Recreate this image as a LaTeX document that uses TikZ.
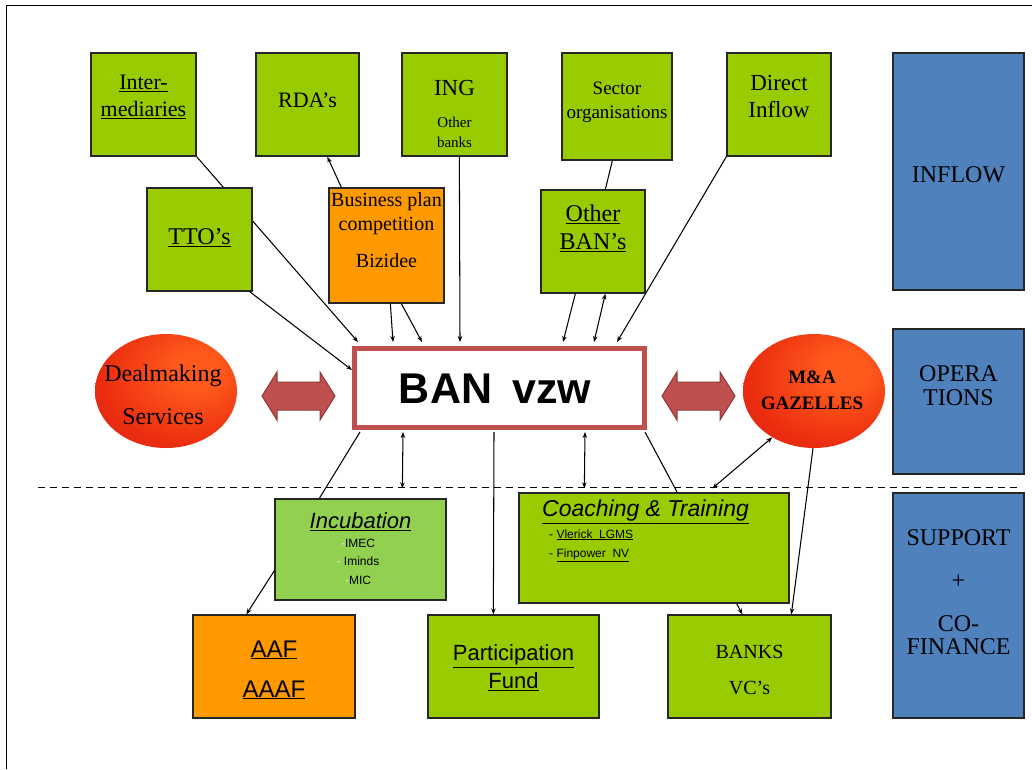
\documentclass[tikz,border=0pt]{standalone}
\usepackage{fontspec}
\setmainfont{Liberation Serif}
\setsansfont{Liberation Sans}
\usetikzlibrary{arrows.meta,calc,shapes.geometric}
\definecolor{gr}{RGB}{153,204,0}
\definecolor{lgr}{RGB}{146,208,80}
\definecolor{org}{RGB}{255,153,0}
\definecolor{blu}{RGB}{79,129,189}
\definecolor{banred}{RGB}{192,80,77}
\definecolor{dkred}{RGB}{140,56,54}
\definecolor{ballA}{RGB}{255,90,28}
\definecolor{ballB}{RGB}{235,45,15}
\definecolor{ballC}{RGB}{205,25,40}
\definecolor{ballD}{RGB}{170,20,75}
\pgfdeclareradialshading{redball}{\pgfpoint{12bp}{10bp}}{color(0bp)=(ballA); color(8bp)=(ballA); color(30bp)=(ballB); color(52bp)=(ballC); color(78bp)=(ballD)}
\pgfdeclarelayer{bg}
\pgfsetlayers{bg,main}
\newcommand\fsz[2]{\fontsize{#1}{#2}\selectfont}
\tikzset{
  box/.style={draw=black!85, line width=1.3pt, inner sep=0pt},
  gbox/.style={box, fill=gr},
  obox/.style={box, fill=org},
  bbox/.style={box, fill=blu},
  ball/.style={ellipse, shade, shading=redball, inner sep=0pt, minimum width=142pt, minimum height=114pt},
  txt/.style={inner sep=0pt, align=center, text=black},
  tip/.tip={Stealth[length=6pt,width=4.5pt]},
  arr/.style={-tip, line width=1.05pt},
  darr/.style={tip-tip, line width=1.05pt},
  ln/.style={line width=1.05pt},
  blockarrow/.pic={\draw[fill=banred, draw=dkred, line width=1pt] (-36.5,0) -- (-21.5,-24) -- (-21.5,-14) -- (21.5,-14) -- (21.5,-24) -- (36.5,0) -- (21.5,24) -- (21.5,14) -- (-21.5,14) -- (-21.5,24) -- cycle;}
}
\begin{document}
\begin{tikzpicture}[x=1pt,y=-1pt]
\useasboundingbox (0,0) rectangle (1032,769);
% frame
\coordinate (fbl) at (6,769);
\coordinate (ftl) at (6,5);
\coordinate (ftr) at (1032,5);
\draw[line width=1pt] (fbl) -- (ftl) -- (ftr);
% dashed separator
\coordinate (dl) at (38,487);
\coordinate (dr) at (1020,487);
\draw[line width=1pt, dash pattern=on 7pt off 5pt] (dl) -- (dr);

% top row
\node[gbox, minimum width=105pt, minimum height=103pt] (inter) at (143.5,104.5) {};
\node[txt, font=\fsz{22}{27}] at (143.5,97) {\underline{Inter-}\\\underline{mediaries}};
\node[gbox, minimum width=103pt, minimum height=103pt] (rda) at (307.5,104.5) {};
\node[txt, font=\fsz{22}{26}] at (307.5,100) {RDA’s};
\node[gbox, minimum width=105pt, minimum height=103pt] (ing) at (454.5,104.5) {};
\node[txt, font=\fsz{23}{26}] at (454.5,88) {ING};
\node[txt, font=\fsz{15}{20}] at (454.5,132) {Other\\banks};
\node[gbox, minimum width=110pt, minimum height=107pt] (sector) at (617,106.5) {};
\node[txt, font=\fsz{19}{24}] at (617,102) {Sector\\organisations};
\node[gbox, minimum width=104pt, minimum height=103pt] (direct) at (779,104.5) {};
\node[txt, font=\fsz{23}{27}] at (779,96) {Direct\\Inflow};
\node[bbox, minimum width=131pt, minimum height=237pt] (inflow) at (958.5,171.5) {};
\node[txt, font=\fsz{24}{24}] at (958.5,175) {INFLOW};

% second row
\node[gbox, minimum width=105pt, minimum height=103pt] (tto) at (199.5,239.5) {};
\node[txt, font=\fsz{24}{24}] at (199.5,238) {\underline{TTO’s}};
\node[obox, minimum width=115pt, minimum height=115pt] (bpc) at (386.5,245.5) {};
\node[txt, font=\fsz{20}{24}] at (386.5,214) {Business plan\\competition};
\node[txt, font=\fsz{20}{24}] at (386.5,261) {Bizidee};
\node[gbox, minimum width=104pt, minimum height=103pt] (oban) at (593,241.5) {};
\node[txt, font=\fsz{24}{28}] at (593,228) {\underline{Other}\\\underline{BAN’s}};

% operations row
\node[draw=banred, fill=white, line width=5pt, inner sep=0pt, minimum width=290pt, minimum height=79pt] (ban) at (499.5,388) {};
\node[txt, font=\sffamily\bfseries\fsz{43}{43}] at (495,389) {BAN\hspace{20pt}vzw};
\node[ball] (deal) at (166,391) {};
\node[txt, font=\fsz{24}{24}] at (163,394.5) {Dealmaking\\[19pt]Services};
\node[ball] (mna) at (814,391) {};
\node[txt, font=\bfseries\fsz{19}{26}] at (812,390) {M\&A\\GAZELLES};
\pic at (298.5,396) {blockarrow};
\pic at (698.5,396) {blockarrow};
\node[bbox, minimum width=131pt, minimum height=145pt] (oper) at (958.5,401.5) {};
\node[txt, font=\fsz{24}{24}] at (958.5,386) {OPERA\\TIONS};

% support row
\node[box, fill=lgr, minimum width=171pt, minimum height=101pt] (incub) at (360.5,549.5) {};
\node[txt, font=\sffamily\itshape\fsz{22}{22}] at (360.5,522) {\underline{Incubation}};
\node[txt, font=\sffamily\fsz{12}{18.5}] at (358,561.5) {{\color{white!70!lgr}-}IMEC\\{\color{white!70!lgr}-} Iminds\\{\color{white!70!lgr}-}MIC};
\node[gbox, minimum width=270pt, minimum height=110pt] (coach) at (654,548) {};
\node[txt, anchor=west, font=\sffamily\itshape\fsz{23}{23}] at (542,512) {\underline{Coaching \& Training}};
\node[txt, anchor=west, align=left, font=\sffamily\fsz{12}{19}] at (549,545.5) {- \underline{Vlerick\ \ LGMS}\\- \underline{Finpower\ \ NV}};
\node[bbox, minimum width=131pt, minimum height=225pt] (support) at (958.5,605.5) {};
\node[txt, font=\fsz{24}{23}] at (958.5,592.5) {SUPPORT\\[20pt]+\\[20pt]CO-\\FINANCE};

% bottom row
\node[obox, minimum width=162pt, minimum height=103pt] (aaf) at (274,666.5) {};
\node[txt, font=\sffamily\fsz{24}{40}] at (274,670) {\underline{AAF}\\\underline{AAAF}};
\node[gbox, minimum width=171pt, minimum height=103pt] (pf) at (513.5,666.5) {};
\node[txt, font=\sffamily\fsz{22}{28}] at (513.5,668) {\underline{Participation}\\\underline{Fund}};
\node[gbox, minimum width=163pt, minimum height=103pt] (banks) at (749.5,666.5) {};
\node[txt, font=\fsz{20}{36}] at (749.5,670) {BANKS\\VC’s};

% connectors behind boxes
\begin{pgfonlayer}{bg}
\draw[arr] (inter.south east) -- ($(ban.north west)+(6,-4)$);
\draw[arr] ($(ban.south east)+(-2,2)$) -- ($(banks.north west)+(75,0)$);
\draw[ln] ($(ban.south west)+(8,2)$) -- ($(incub.north west)+(45,0)$);
\end{pgfonlayer}

% connectors
\draw[arr] ($(tto.south east)+(-3,0)$) -- ($(ban.north west)+(0,24)$);
\draw[arr] ($(bpc.north west)+(13,0)$) -- ($(rda.south west)+(72,0)$);
\draw[arr] ($(bpc.south west)+(62,0)$) -- ($(ban.north west)+(41,-4)$);
\draw[arr] ($(bpc.south west)+(73,0)$) -- ($(ban.north west)+(70,-4)$);
\draw[arr] ($(ing.south west)+(58,0)$) -- ($(ban.north west)+(108,-4)$);
\draw[ln] ($(sector.south west)+(51,0)$) -- ($(oban.north west)+(65,0)$);
\draw[arr] ($(oban.south west)+(35,0)$) -- ($(ban.north west)+(211,-4)$);
\draw[darr] ($(oban.south west)+(65,0)$) -- ($(ban.north west)+(242,-4)$);
\draw[arr] (direct.south west) -- ($(ban.north west)+(265,-4)$);
\draw[darr] ($(ban.south west)+(51,2)$) -- ($(incub.north west)+(128,-10)$);
\draw[arr] ($(ban.south west)+(142,2)$) -- ($(pf.north west)+(66,0)$);
\draw[darr] ($(ban.south west)+(233,2)$) -- ($(coach.north west)+(66,-4)$);
\draw[darr] (mna.228) -- ($(coach.north west)+(194,-4)$);
\draw[arr] (mna.-91) -- ($(banks.north west)+(124,0)$);
\draw[arr] ($(incub.south west)+(0,-30)$) -- ($(aaf.north west)+(54,0)$);
\end{tikzpicture}
\end{document}
